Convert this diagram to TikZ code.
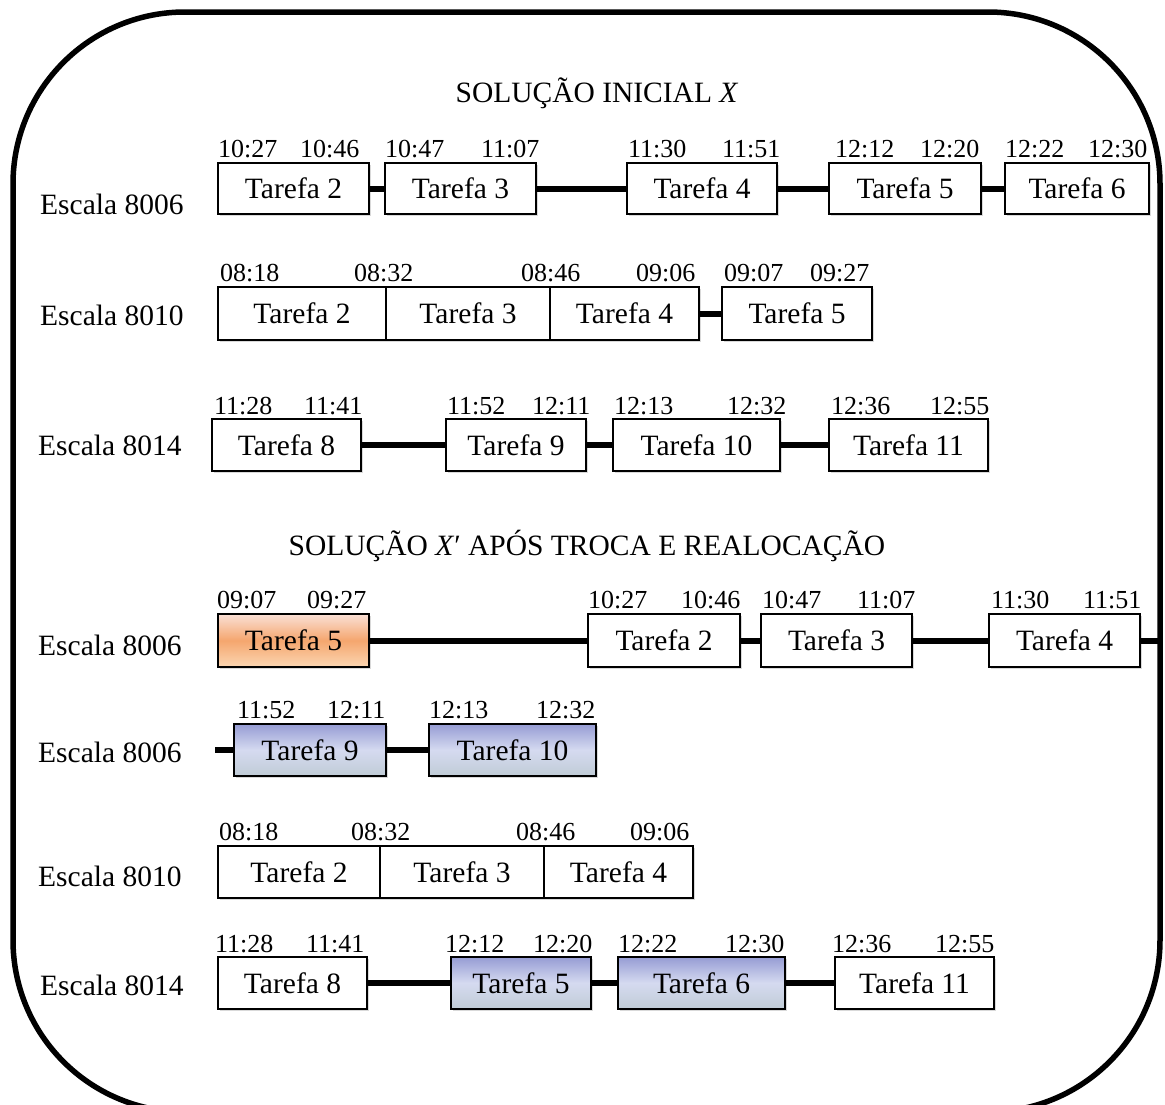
\documentclass[tikz,border=0pt]{standalone}
\usepackage{fontspec}
\setmainfont{Liberation Serif}
\usetikzlibrary{shadows}
\definecolor{orTop}{RGB}{250,224,214}
\definecolor{orMid}{RGB}{245,166,110}
\definecolor{orBot}{RGB}{251,214,178}
\definecolor{blTop}{RGB}{150,156,212}
\definecolor{blMid}{RGB}{213,218,240}
\definecolor{blBot}{RGB}{192,204,214}
\newcommand\Tbox[7][]{\node[box,#1,minimum width={#4-#3},minimum height={#6-#5}] (#2) at ({(#3+#4)/2},{(#5+#6)/2}) {#7};}
\newcommand\Tm[4]{\node[tm,anchor=base west] (#1) at (#2,#3) {#4};}
\begin{document}
\begin{tikzpicture}[x=1pt,y=-1pt,
  box/.style={draw=black, line width=1.5, fill=white, inner sep=0pt, outer sep=0pt,
    font=\fontsize{29.5}{32}\selectfont,
    drop shadow={shadow xshift=1.5pt, shadow yshift=-1.8pt, opacity=0.3, fill=gray}},
  orangebox/.style={top color=orTop, bottom color=orBot, middle color=orMid},
  bluebox/.style={top color=blTop, bottom color=blBot, middle color=blMid},
  tm/.style={inner sep=0pt, font=\fontsize{26}{28}\selectfont},
  lab/.style={inner sep=0pt, font=\fontsize{29.5}{32}\selectfont},
  conn/.style={line width=6, line cap=butt}]
\clip (0,0) rectangle (1165,1104);
\draw[line width=5.5, rounded corners=172] (13,12) rectangle (1160,1112);

% titles
\node[lab, anchor=base] (title1) at (597,102) {SOLUÇÃO INICIAL \textit{X}};
\node[lab, anchor=base] (title2) at (587,555) {SOLUÇÃO \textit{X}′ APÓS TROCA E REALOCAÇÃO};

% row labels
\node[lab, anchor=base west] (l1) at (40,214) {Escala 8006};
\node[lab, anchor=base west] (l2) at (40,325) {Escala 8010};
\node[lab, anchor=base west] (l3) at (38,455) {Escala 8014};
\node[lab, anchor=base west] (l4) at (38,655) {Escala 8006};
\node[lab, anchor=base west] (l5) at (38,762) {Escala 8006};
\node[lab, anchor=base west] (l6) at (38,886) {Escala 8010};
\node[lab, anchor=base west] (l7) at (40,995) {Escala 8014};

% row 1
\Tbox{a2}{218}{369}{163}{214}{Tarefa 2}
\Tbox{a3}{385}{536}{163}{214}{Tarefa 3}
\Tbox{a4}{627}{777}{163}{214}{Tarefa 4}
\Tbox{a5}{829}{981}{163}{214}{Tarefa 5}
\Tbox{a6}{1005}{1149}{163}{214}{Tarefa 6}
\draw[conn] (a2.east) -- (a3.west);
\draw[conn] (a3.east) -- (a4.west);
\draw[conn] (a4.east) -- (a5.west);
\draw[conn] (a5.east) -- (a6.west);
\Tm{ta1}{218}{157}{10:27}
\Tm{ta2}{300}{157}{10:46}
\Tm{ta3}{385}{157}{10:47}
\Tm{ta4}{481}{157}{11:07}
\Tm{ta5}{628}{157}{11:30}
\Tm{ta6}{722}{157}{11:51}
\Tm{ta7}{835}{157}{12:12}
\Tm{ta8}{920}{157}{12:20}
\Tm{ta9}{1005}{157}{12:22}
\Tm{ta10}{1088}{157}{12:30}

% row 2
\Tbox{b2}{218}{386}{287}{340}{Tarefa 2}
\Tbox{b3}{386}{550}{287}{340}{Tarefa 3}
\Tbox{b4}{550}{699}{287}{340}{Tarefa 4}
\Tbox{b5}{722}{872}{287}{340}{Tarefa 5}
\draw[conn] (b4.east) -- (b5.west);
\Tm{tb1}{220}{281}{08:18}
\Tm{tb2}{354}{281}{08:32}
\Tm{tb3}{521}{281}{08:46}
\Tm{tb4}{636}{281}{09:06}
\Tm{tb5}{724}{281}{09:07}
\Tm{tb6}{810}{281}{09:27}

% row 3
\Tbox{c8}{212}{361}{419}{471}{Tarefa 8}
\Tbox{c9}{446}{586}{419}{471}{Tarefa 9}
\Tbox{c10}{613}{780}{419}{471}{Tarefa 10}
\Tbox{c11}{829}{988}{419}{471}{Tarefa 11}
\draw[conn] (c8.east) -- (c9.west);
\draw[conn] (c9.east) -- (c10.west);
\draw[conn] (c10.east) -- (c11.west);
\Tm{tc1}{214}{414}{11:28}
\Tm{tc2}{304}{414}{11:41}
\Tm{tc3}{447}{414}{11:52}
\Tm{tc4}{532}{414}{12:11}
\Tm{tc5}{614}{414}{12:13}
\Tm{tc6}{727}{414}{12:32}
\Tm{tc7}{831}{414}{12:36}
\Tm{tc8}{930}{414}{12:55}

% row 4
\Tbox[orangebox]{d5}{218}{369}{614}{667}{Tarefa 5}
\Tbox{d2}{588}{740}{614}{667}{Tarefa 2}
\Tbox{d3}{761}{912}{614}{667}{Tarefa 3}
\Tbox{d4}{989}{1140}{614}{667}{Tarefa 4}
\coordinate (d4r) at (1160,640.5);
\draw[conn] (d5.east) -- (d2.west);
\draw[conn] (d2.east) -- (d3.west);
\draw[conn] (d3.east) -- (d4.west);
\draw[conn] (d4.east) -- (d4r);
\Tm{td1}{217}{608}{09:07}
\Tm{td2}{307}{608}{09:27}
\Tm{td3}{588}{608}{10:27}
\Tm{td4}{681}{608}{10:46}
\Tm{td5}{762}{608}{10:47}
\Tm{td6}{857}{608}{11:07}
\Tm{td7}{991}{608}{11:30}
\Tm{td8}{1083}{608}{11:51}

% row 5
\Tbox[bluebox]{e9}{234}{386}{724}{776}{Tarefa 9}
\Tbox[bluebox]{e10}{429}{596}{724}{776}{Tarefa 10}
\coordinate (e9l) at (215,750);
\draw[conn] (e9l) -- (e9.west);
\draw[conn] (e9.east) -- (e10.west);
\Tm{te1}{237}{718}{11:52}
\Tm{te2}{327}{718}{12:11}
\Tm{te3}{429}{718}{12:13}
\Tm{te4}{536}{718}{12:32}

% row 6
\Tbox{f2}{218}{380}{846}{898}{Tarefa 2}
\Tbox{f3}{380}{544}{846}{898}{Tarefa 3}
\Tbox{f4}{544}{693}{846}{898}{Tarefa 4}
\Tm{tf1}{219}{840}{08:18}
\Tm{tf2}{351}{840}{08:32}
\Tm{tf3}{516}{840}{08:46}
\Tm{tf4}{630}{840}{09:06}

% row 7
\Tbox{g8}{218}{367}{957}{1009}{Tarefa 8}
\Tbox[bluebox]{g5}{451}{591}{957}{1009}{Tarefa 5}
\Tbox[bluebox]{g6}{618}{785}{957}{1009}{Tarefa 6}
\Tbox{g11}{835}{994}{957}{1009}{Tarefa 11}
\draw[conn] (g8.east) -- (g5.west);
\draw[conn] (g5.east) -- (g6.west);
\draw[conn] (g6.east) -- (g11.west);
\Tm{tg1}{215}{952}{11:28}
\Tm{tg2}{306}{952}{11:41}
\Tm{tg3}{445}{952}{12:12}
\Tm{tg4}{533}{952}{12:20}
\Tm{tg5}{618}{952}{12:22}
\Tm{tg6}{725}{952}{12:30}
\Tm{tg7}{832}{952}{12:36}
\Tm{tg8}{935}{952}{12:55}
\end{tikzpicture}
\end{document}
